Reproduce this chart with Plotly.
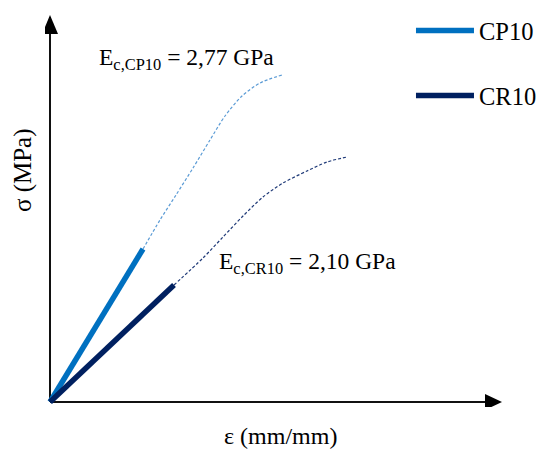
import plotly.graph_objects as go

# ---- data (arbitrary strain / stress units) ----
series = ["CP10", "CR10"]

cp10_lin_x = [0.0, 0.93]
cp10_lin_y = [0.0, 15.3]
cp10_curve_x = [0.93, 1.10, 1.26, 1.43, 1.60, 1.75, 1.92, 2.10, 2.32]
cp10_curve_y = [15.3, 18.2, 20.7, 23.4, 26.2, 28.6, 30.6, 31.9, 32.7]

cr10_lin_x = [0.0, 1.24]
cr10_lin_y = [0.0, 11.7]
cr10_curve_x = [1.24, 1.53, 1.73, 1.93, 2.13, 2.33, 2.57, 2.77, 2.97]
cr10_curve_y = [11.7, 14.4, 16.5, 18.6, 20.5, 21.9, 23.1, 24.0, 24.5]

labels = ["E<sub>c,CP10</sub> = 2,77 GPa", "E<sub>c,CR10</sub> = 2,10 GPa"]
x_title = "ε (mm/mm)"
y_title = "σ (MPa)"

FONT = "'Liberation Serif', 'Times New Roman', Times, serif"
C_CP = "#0070C0"
C_CP_L = "#5B9BD5"
C_CR = "#002060"
C_CR_L = "#1F3A78"

fig = go.Figure()

fig.add_trace(go.Scatter(x=cp10_curve_x, y=cp10_curve_y, mode="lines",
                         line=dict(color=C_CP_L, width=1.2, dash="3px,2px",
                                   shape="spline", smoothing=0.8),
                         showlegend=False, hoverinfo="skip"))
fig.add_trace(go.Scatter(x=cr10_curve_x, y=cr10_curve_y, mode="lines",
                         line=dict(color=C_CR_L, width=1.2, dash="3px,2px",
                                   shape="spline", smoothing=0.8),
                         showlegend=False, hoverinfo="skip"))
fig.add_trace(go.Scatter(x=cp10_lin_x, y=cp10_lin_y, mode="lines", name=series[0],
                         legendgroup="a",
                         line=dict(color=C_CP, width=5.5)))
fig.add_trace(go.Scatter(x=cr10_lin_x, y=cr10_lin_y, mode="lines", name=series[1],
                         legendgroup="b",
                         line=dict(color=C_CR, width=5.5)))

XMAX, YMAX = 4.5, 38.5
AX_COLOR = "#111111"

shapes = [
    dict(type="line", xref="x", yref="y", x0=0, y0=0, x1=XMAX, y1=0,
         line=dict(color=AX_COLOR, width=2), layer="below"),
    dict(type="line", xref="x", yref="y", x0=0, y0=0, x1=0, y1=YMAX,
         line=dict(color=AX_COLOR, width=2), layer="below"),
    dict(type="path", xref="x", yref="y", xsizemode="pixel", ysizemode="pixel",
         xanchor=XMAX, yanchor=0, path="M2,0 L-15,8 L-15,-8 Z",
         fillcolor="black", line=dict(width=0)),
    dict(type="path", xref="x", yref="y", xsizemode="pixel", ysizemode="pixel",
         xanchor=0, yanchor=YMAX, path="M0,2 L-8,-17 L8,-17 Z",
         fillcolor="black", line=dict(width=0)),
]

# plot area: px 45..546 horizontally, 0..407 vertically
ann = [
    dict(x=0.47, y=34.3, xref="x", yref="y", text=labels[0], showarrow=False,
         xanchor="left", yanchor="middle", font=dict(family=FONT, size=23.5, color="black")),
    dict(x=1.67, y=13.9, xref="x", yref="y", text=labels[1], showarrow=False,
         xanchor="left", yanchor="middle", font=dict(family=FONT, size=23.5, color="black")),
    dict(x=-0.044, y=0.582, xref="paper", yref="paper", text=y_title, showarrow=False,
         textangle=-90, xanchor="center", yanchor="middle",
         font=dict(family=FONT, size=25, color="black")),
    dict(x=0.471, y=-0.071, xref="paper", yref="paper", text=x_title, showarrow=False,
         xanchor="center", yanchor="middle",
         font=dict(family=FONT, size=24, color="black")),
]

fig.update_layout(
    width=546, height=450,
    margin=dict(l=45, r=0, t=0, b=43),
    paper_bgcolor="white", plot_bgcolor="white",
    font=dict(family=FONT, size=23, color="black"),
    showlegend=True,
    legend=dict(x=0.7305, y=0.980, xanchor="left", yanchor="top",
                font=dict(family=FONT, size=24.5, color="black"),
                itemwidth=58, tracegroupgap=30, bgcolor="rgba(0,0,0,0)"),
    annotations=ann,
    shapes=shapes,
    xaxis=dict(range=[-0.05, 4.96], showgrid=False, zeroline=False, showline=False,
               showticklabels=False, ticks="", automargin=False),
    yaxis=dict(range=[-0.5, 40.2], showgrid=False, zeroline=False, showline=False,
               showticklabels=False, ticks="", automargin=False),
)

fig.write_html("out.html")
